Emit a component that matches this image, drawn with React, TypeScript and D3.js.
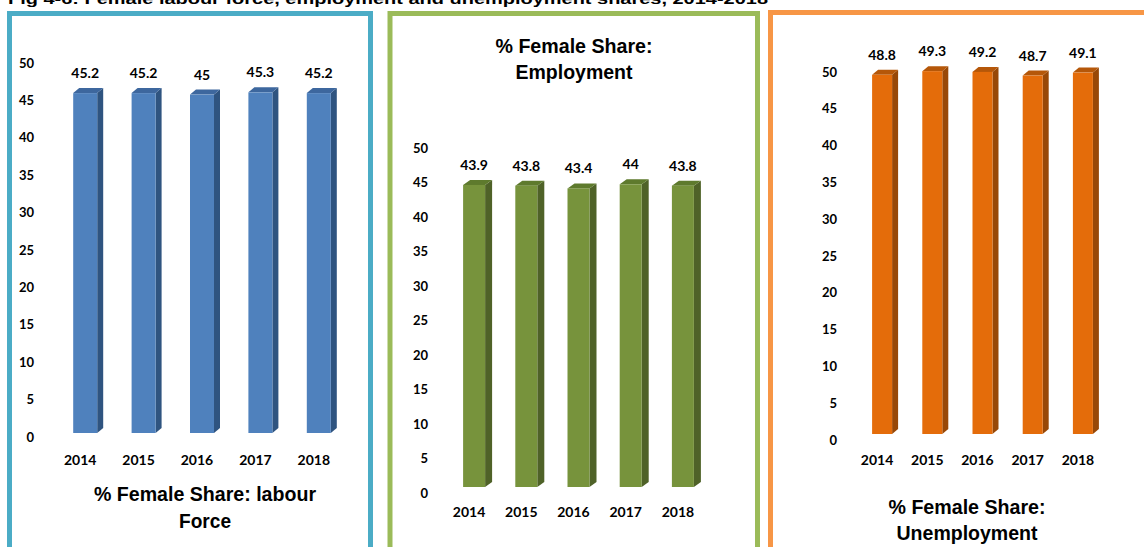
import React, { useEffect, useRef } from "react";
import * as d3 from "d3";

// chart values
const years = ["2014", "2015", "2016", "2017", "2018"];
const labourForce = [45.2, 45.2, 45, 45.3, 45.2];
const employment = [43.9, 43.8, 43.4, 44, 43.8];
const unemployment = [48.8, 49.3, 49.2, 48.7, 49.1];
const yTicks = [0, 5, 10, 15, 20, 25, 30, 35, 40, 45, 50];

const figTitle = "Fig 4-6: Female labour force, employment and unemployment shares, 2014-2018";

// layout of each of the three boxes (positions only)
const panels = [
  {
    values: labourForce,
    title: ["% Female Share: labour", "Force"],
    titleWidths: [222, 52],
    titleX: 205,
    titleY: [501, 528],
    border: "#4BACC6",
    box: [9.5, 13.5, 361, 600],
    tickX: 34,
    tickRange: [437, 63],
    barRange: [433, 57],
    band: [56, 348],
    barW: 24,
    depth: [6, 5],
    catY: 465,
    front: "#4F81BD",
    top: "#3D679E",
    side: "#2F5480",
  },
  {
    values: employment,
    title: ["% Female Share:", "Employment"],
    titleWidths: [157, 117],
    titleX: 574,
    titleY: [53, 79],
    border: "#9BBB59",
    box: [390, 13.5, 367.5, 600],
    tickX: 428,
    tickRange: [493, 148],
    barRange: [487, 143],
    band: [448, 709],
    barW: 22,
    depth: [7, 5],
    catY: 517,
    front: "#77933C",
    top: "#5E7A2D",
    side: "#4F6228",
  },
  {
    values: unemployment,
    title: ["% Female Share:", "Unemployment"],
    titleWidths: [157, 141],
    titleX: 967,
    titleY: [514, 540],
    border: "#F79646",
    box: [770.5, 12.5, 500, 600],
    tickX: 837,
    tickRange: [440, 72],
    barRange: [434, 66],
    band: [857, 1108],
    barW: 20,
    depth: [6, 5],
    catY: 465,
    front: "#E46C0A",
    top: "#B55709",
    side: "#984807",
  },
];

const numFont = "Lato, 'Open Sans', sans-serif";
const titleFont = "'Liberation Sans', Arial, sans-serif";

export default function App() {
  const svgRef = useRef<SVGSVGElement>(null);

  useEffect(() => {
    const svg = d3.select(svgRef.current);
    svg.selectAll("*").remove();

    svg
      .append("text")
      .attr("x", 8)
      .attr("y", 4)
      .attr("textLength", 760)
      .attr("lengthAdjust", "spacingAndGlyphs")
      .style("font-family", titleFont)
      .style("font-weight", "bold")
      .style("font-size", "15px")
      .text(figTitle);

    panels.forEach((p) => {
      const g = svg.append("g");

      g.append("rect")
        .attr("x", p.box[0])
        .attr("y", p.box[1])
        .attr("width", p.box[2])
        .attr("height", p.box[3])
        .attr("fill", "none")
        .attr("stroke", p.border)
        .attr("stroke-width", 5);

      const yTick = d3.scaleLinear().domain([0, 50]).range(p.tickRange);
      const yBar = d3.scaleLinear().domain([0, 50]).range(p.barRange);
      const x = d3.scaleBand().domain(years).range(p.band).paddingInner(0).paddingOuter(0);

      // y tick labels
      g.selectAll(".tick")
        .data(yTicks)
        .enter()
        .append("text")
        .attr("x", p.tickX)
        .attr("y", (d) => yTick(d) + 4.5)
        .attr("text-anchor", "end")
        .style("font-family", numFont)
        .style("font-weight", "bold")
        .style("font-size", "13px")
        .text((d) => d);

      const [dx, dy] = p.depth;
      const bars = g
        .selectAll(".bar")
        .data(p.values.map((v, i) => ({ v, year: years[i] })))
        .enter()
        .append("g");

      const left = (d) => x(d.year)! + x.bandwidth() / 2 - p.barW / 2;
      const y0 = yBar(0);

      // side face
      bars
        .append("path")
        .attr("fill", p.side)
        .attr("d", (d) => {
          const x1 = left(d) + p.barW;
          const yt = yBar(d.v);
          return `M${x1},${yt}L${x1 + dx},${yt - dy}L${x1 + dx},${y0 - dy}L${x1},${y0}Z`;
        });

      // top face
      bars
        .append("path")
        .attr("fill", p.top)
        .attr("d", (d) => {
          const x0 = left(d);
          const yt = yBar(d.v);
          return `M${x0},${yt}L${x0 + dx},${yt - dy}L${x0 + p.barW + dx},${yt - dy}L${x0 + p.barW},${yt}Z`;
        });

      // front face
      bars
        .append("rect")
        .attr("x", left)
        .attr("y", (d) => yBar(d.v))
        .attr("width", p.barW)
        .attr("height", (d) => y0 - yBar(d.v))
        .attr("fill", p.front);

      // data labels
      bars
        .append("text")
        .attr("x", (d) => left(d) + p.barW / 2)
        .attr("y", (d) => yBar(d.v) - 15)
        .attr("text-anchor", "middle")
        .style("font-family", numFont)
        .style("font-weight", "bold")
        .style("font-size", "14px")
        .text((d) => d.v);

      // category labels
      g.selectAll(".cat")
        .data(years)
        .enter()
        .append("text")
        .attr("x", (d) => x(d)! + x.bandwidth() / 2 - 5)
        .attr("y", p.catY)
        .attr("text-anchor", "middle")
        .style("font-family", numFont)
        .style("font-weight", "bold")
        .style("font-size", "14px")
        .text((d) => d);

      // box title
      p.title.forEach((line, i) => {
        g.append("text")
          .attr("x", p.titleX)
          .attr("y", p.titleY[i])
          .attr("text-anchor", "middle")
          .attr("textLength", p.titleWidths[i])
          .attr("lengthAdjust", "spacingAndGlyphs")
          .style("font-family", titleFont)
          .style("font-weight", "bold")
          .style("font-size", "21px")
          .text(line);
      });
    });
  }, []);

  return (
    <div style={{ position: "absolute", left: 0, top: 0 }}>
      <svg ref={svgRef} width={1144} height={547} style={{ display: "block", background: "#fff" }}></svg>
    </div>
  );
}
